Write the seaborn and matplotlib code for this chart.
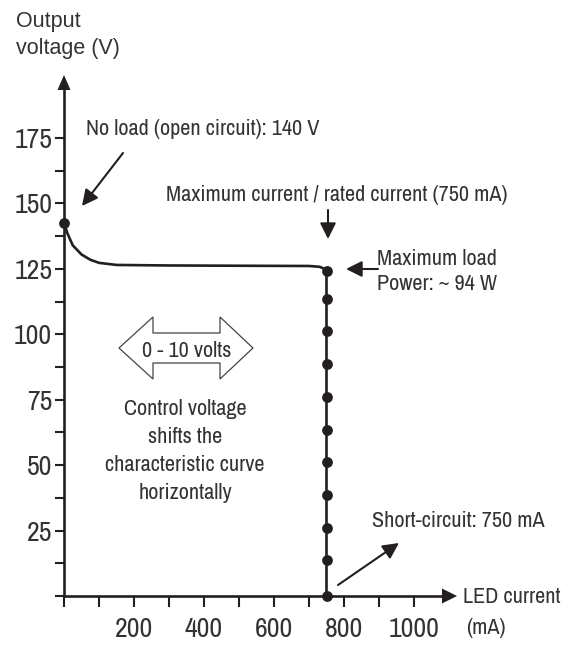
import matplotlib
matplotlib.use("Agg")
import matplotlib.pyplot as plt
import seaborn as sns
import pandas as pd
from matplotlib.patches import Polygon
from matplotlib.ticker import FixedLocator, FixedFormatter

# ---- data ----
curve_current = [0, 10, 25, 50, 75, 100, 150, 300, 500, 700, 730, 745, 750, 750]
curve_voltage = [142.5, 138.5, 134.0, 130.5, 128.5, 127.3, 126.5, 126.3, 126.2, 126.1, 125.8, 125.0, 124.0, 0.0]

dot_current = [0, 750, 750, 750, 750, 750, 750, 750, 750, 750, 750, 750]
dot_voltage = [142.5, 124.0, 113.5, 101.3, 88.6, 76.2, 63.5, 51.1, 38.6, 26.0, 13.8, 0.0]

x_ticks = [0, 100, 200, 300, 400, 500, 600, 700, 800, 900, 1000]
x_labels = ["", "", "200", "", "400", "", "600", "", "800", "", "1000"]
y_ticks = [0, 12.5, 25, 37.5, 50, 62.5, 75, 87.5, 100, 112.5, 125, 137.5, 150, 162.5, 175]
y_labels = ["", "", "25", "", "50", "", "75", "", "100", "", "125", "", "150", "", "175"]

# ---- style ----
sns.set_style("white")
FONT = ["Liberation Sans Narrow", "Arial Narrow", "Archivo Narrow", "PT Sans Narrow",
        "Roboto Condensed", "Liberation Sans", "DejaVu Sans"]
WIDE = ["Liberation Sans", "DejaVu Sans"]
plt.rcParams["font.family"] = FONT
INK = "#231f20"
TXT = "#333333"

W, H = 580, 645
fig = plt.figure(figsize=(W / 100, H / 100), dpi=100)
ax = fig.add_axes([0, 0, 1, 1])

# pixel mapping: x=0 at px 64, 0.35 px per mA ; y=0 at px 596, 2.617 px per V
X0, SX = 64.0, 0.35
Y0, SY = 596.0, 2.617
ax.set_xlim((0 - X0) / SX, (W - X0) / SX)
ax.set_ylim((Y0 - H) / SY, (Y0 - 0) / SY)


def P(xp, yp):
    return ((xp - X0) / SX, (Y0 - yp) / SY)


curve = pd.DataFrame({"current": curve_current, "voltage": curve_voltage})
dots = pd.DataFrame({"current": dot_current, "voltage": dot_voltage})

sns.lineplot(data=curve, x="current", y="voltage", sort=False, estimator=None,
             errorbar=None, color=INK, linewidth=1.9, ax=ax, zorder=3)
sns.scatterplot(data=dots, x="current", y="voltage", color=INK, s=60,
                linewidth=0, ax=ax, zorder=4)

# axes as arrows through origin
for s in ["top", "right"]:
    ax.spines[s].set_visible(False)
ax.spines["left"].set_position(("data", 0))
ax.spines["bottom"].set_position(("data", 0))
ax.spines["left"].set_bounds(0, P(0, 89)[1])
ax.spines["bottom"].set_bounds(0, P(443, 0)[0])
for s in ["left", "bottom"]:
    ax.spines[s].set_color(INK)
    ax.spines[s].set_linewidth(1.9)

ax.add_patch(Polygon([P(64, 75), P(57.5, 90), P(70.5, 90)], closed=True,
                     fc=INK, ec="none", zorder=5))
ax.add_patch(Polygon([P(457, 596), P(442, 588.5), P(442, 603.5)], closed=True,
                     fc=INK, ec="none", zorder=5))

ax.xaxis.set_major_locator(FixedLocator(x_ticks))
ax.xaxis.set_major_formatter(FixedFormatter(x_labels))
ax.yaxis.set_major_locator(FixedLocator(y_ticks))
ax.yaxis.set_major_formatter(FixedFormatter(y_labels))
ax.tick_params(axis="x", direction="out", length=8, width=1.5, color=INK,
               pad=7, labelsize=20, labelcolor=TXT, bottom=True)
ax.tick_params(axis="y", direction="out", length=6.5, width=1.5, color=INK,
               pad=2, labelsize=20, labelcolor=TXT, left=True)
ax.set_xlabel("")
ax.set_ylabel("")
ax.grid(False)


def T(xp, yp, s, size=16, ha="left", family=None):
    x, y = P(xp, yp)
    kw = {} if family is None else {"family": family}
    ax.text(x, y, s, fontsize=size, color=TXT, ha=ha, va="baseline", zorder=6, **kw)


def A(x1, y1, x2, y2):
    ax.annotate("", xy=P(x2, y2), xytext=P(x1, y1),
                arrowprops=dict(arrowstyle="-|>,head_length=0.48,head_width=0.24",
                                color=INK, lw=1.5, mutation_scale=20,
                                shrinkA=0, shrinkB=0), zorder=6)


# axis titles
T(16, 27, "Output", size=15.5, family=WIDE)
T(16, 54, "voltage (V)", size=15.5, family=WIDE)
T(463, 603, "LED current")
T(466, 634, "(mA)")

# annotations
T(86, 135, "No load (open circuit): 140 V")
A(123, 153, 82, 206)

T(166, 201, "Maximum current / rated current (750 mA)")
A(328, 210, 328, 239)

T(377, 265, "Maximum load")
T(377, 290, "Power: ~ 94 W")
A(378, 269, 346, 269)

T(372, 527, "Short-circuit: 750 mA")
A(338, 585, 399, 543)

# double outline arrow with control range
arrow_px = [(119, 348), (153, 317), (153, 333), (220, 333), (220, 317), (253, 348),
            (220, 379), (220, 363), (153, 363), (153, 379)]
ax.add_patch(Polygon([P(a, b) for a, b in arrow_px], closed=True,
                     fc="white", ec="#444444", lw=0.9, zorder=5))
T(187, 357, "0 - 10 volts", ha="center")

for yb, line in zip([415, 443, 471, 499],
                    ["Control voltage", "shifts the", "characteristic curve", "horizontally"]):
    T(185, yb, line, ha="center")

fig.savefig("out.png", dpi=100)
